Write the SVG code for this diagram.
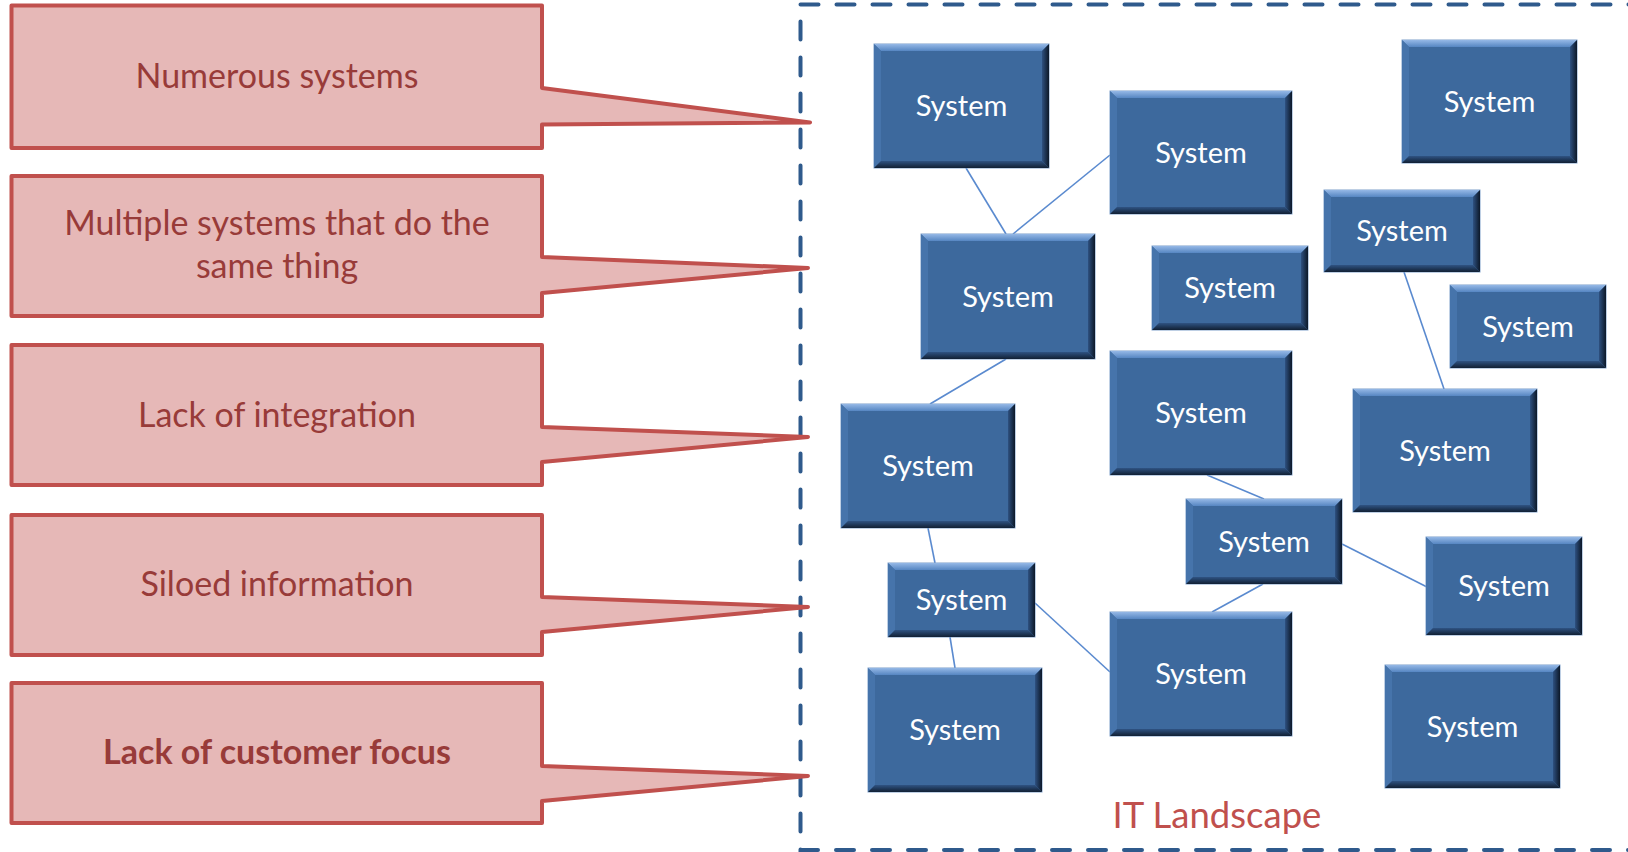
<svg xmlns="http://www.w3.org/2000/svg" width="1628" height="852" viewBox="0 0 1628 852">
  <defs>
    <linearGradient id="bvTop" x1="0" y1="0" x2="0" y2="1">
      <stop offset="0" stop-color="#95B8E6"/>
      <stop offset="1" stop-color="#5686C2"/>
    </linearGradient>
    <linearGradient id="bvRight" x1="0" y1="0" x2="1" y2="0">
      <stop offset="0" stop-color="#2E5181"/>
      <stop offset="1" stop-color="#0C1828"/>
    </linearGradient>
    <linearGradient id="bvBottom" x1="0" y1="0" x2="0" y2="1">
      <stop offset="0" stop-color="#2F5383"/>
      <stop offset="1" stop-color="#112034"/>
    </linearGradient>
    <style>
      .frame { fill: none; stroke: #2F5A8C; stroke-width: 4; stroke-dasharray: 18 18; stroke-linecap: round; }
      .callout { fill: #E6B8B7; stroke: #C0504D; stroke-width: 4; stroke-linejoin: round; }
      .ctext { font-family: Lato, "Liberation Sans", sans-serif; font-size: 34px; fill: #983B39; text-anchor: middle; }
      .bold { font-weight: bold; }
      .sys { fill: #3D699D; stroke: #7F9FC9; stroke-width: 1; }
      .bt { fill: url(#bvTop); }
      .bl { fill: #4674AB; }
      .br { fill: url(#bvRight); }
      .bb { fill: url(#bvBottom); }
      .stext { font-family: Lato, "Liberation Sans", sans-serif; font-size: 29px; fill: #FFFFFF; text-anchor: middle; }
      .link { stroke: #5A8ACF; stroke-width: 1.6; fill: none; }
      .title { font-family: Lato, "Liberation Sans", sans-serif; font-size: 36.5px; fill: #C0504D; text-anchor: middle; }
    </style>
  </defs>

  <rect width="1628" height="852" fill="#FFFFFF"/>

  <!-- dashed boundary of the IT landscape -->
  <rect class="frame" x="800.5" y="4.5" width="900" height="845.5"/>

  <!-- problem callouts -->
  <g id="callout-numerous">
    <path class="callout" d="M11.5 5.5 H542 V88 L810 122.5 L542 124.5 V148 H11.5 Z"/>
    <text class="ctext" x="277" y="88">Numerous systems</text>
  </g>
  <g id="callout-duplicate">
    <path class="callout" d="M11.5 176 H542 V257 L808 268 L542 293 V316 H11.5 Z"/>
    <text class="ctext" x="277" y="235">Multiple systems that do the</text>
    <text class="ctext" x="277" y="278">same thing</text>
  </g>
  <g id="callout-integration">
    <path class="callout" d="M11.5 345 H542 V427 L808 437 L542 462 V485 H11.5 Z"/>
    <text class="ctext" x="277" y="427">Lack of integration</text>
  </g>
  <g id="callout-siloed">
    <path class="callout" d="M11.5 515 H542 V597 L808 607 L542 632 V655 H11.5 Z"/>
    <text class="ctext" x="277" y="596">Siloed information</text>
  </g>
  <g id="callout-customer">
    <path class="callout" d="M11.5 683 H542 V766 L808 776 L542 801 V823 H11.5 Z"/>
    <text class="ctext bold" x="277" y="764">Lack of customer focus</text>
  </g>

  <!-- links between systems -->
  <g id="connectors">
    <line class="link" x1="966" y1="168" x2="1006" y2="234"/>
    <line class="link" x1="1110" y1="155" x2="1013" y2="234"/>
    <line class="link" x1="1006" y1="359" x2="930" y2="404"/>
    <line class="link" x1="1404" y1="272" x2="1444" y2="389"/>
    <line class="link" x1="928" y1="528" x2="935" y2="563"/>
    <line class="link" x1="950" y1="637" x2="955" y2="668"/>
    <line class="link" x1="1035" y1="603" x2="1110" y2="672"/>
    <line class="link" x1="1207" y1="475" x2="1264" y2="499"/>
    <line class="link" x1="1342" y1="544" x2="1427" y2="587"/>
    <line class="link" x1="1263" y1="584" x2="1212" y2="612"/>
  </g>

  <!-- systems: base, four bevel faces, label -->
  <g id="sys-1">
    <rect class="sys" x="874" y="44" width="175" height="124"/>
    <polygon class="bt" points="874,44 1049,44 1042,51 881,51"/>
    <polygon class="bl" points="874,44 881,51 881,161 874,168"/>
    <polygon class="br" points="1049,44 1049,168 1042,161 1042,51"/>
    <polygon class="bb" points="874,168 1049,168 1042,161 881,161"/>
    <text class="stext" x="961.5" y="116">System</text>
  </g>
  <g id="sys-2">
    <rect class="sys" x="1110" y="91" width="182" height="123"/>
    <polygon class="bt" points="1110,91 1292,91 1285,98 1117,98"/>
    <polygon class="bl" points="1110,91 1117,98 1117,207 1110,214"/>
    <polygon class="br" points="1292,91 1292,214 1285,207 1285,98"/>
    <polygon class="bb" points="1110,214 1292,214 1285,207 1117,207"/>
    <text class="stext" x="1201" y="162.5">System</text>
  </g>
  <g id="sys-3">
    <rect class="sys" x="1402" y="40" width="175" height="123"/>
    <polygon class="bt" points="1402,40 1577,40 1570,47 1409,47"/>
    <polygon class="bl" points="1402,40 1409,47 1409,156 1402,163"/>
    <polygon class="br" points="1577,40 1577,163 1570,156 1570,47"/>
    <polygon class="bb" points="1402,163 1577,163 1570,156 1409,156"/>
    <text class="stext" x="1489.5" y="111.5">System</text>
  </g>
  <g id="sys-4">
    <rect class="sys" x="921" y="234" width="174" height="125"/>
    <polygon class="bt" points="921,234 1095,234 1088,241 928,241"/>
    <polygon class="bl" points="921,234 928,241 928,352 921,359"/>
    <polygon class="br" points="1095,234 1095,359 1088,352 1088,241"/>
    <polygon class="bb" points="921,359 1095,359 1088,352 928,352"/>
    <text class="stext" x="1008" y="306.5">System</text>
  </g>
  <g id="sys-5">
    <rect class="sys" x="1152" y="246" width="156" height="84"/>
    <polygon class="bt" points="1152,246 1308,246 1301,253 1159,253"/>
    <polygon class="bl" points="1152,246 1159,253 1159,323 1152,330"/>
    <polygon class="br" points="1308,246 1308,330 1301,323 1301,253"/>
    <polygon class="bb" points="1152,330 1308,330 1301,323 1159,323"/>
    <text class="stext" x="1230" y="298">System</text>
  </g>
  <g id="sys-6">
    <rect class="sys" x="1324" y="190" width="156" height="82"/>
    <polygon class="bt" points="1324,190 1480,190 1473,197 1331,197"/>
    <polygon class="bl" points="1324,190 1331,197 1331,265 1324,272"/>
    <polygon class="br" points="1480,190 1480,272 1473,265 1473,197"/>
    <polygon class="bb" points="1324,272 1480,272 1473,265 1331,265"/>
    <text class="stext" x="1402" y="241">System</text>
  </g>
  <g id="sys-7">
    <rect class="sys" x="1450" y="285" width="156" height="83"/>
    <polygon class="bt" points="1450,285 1606,285 1599,292 1457,292"/>
    <polygon class="bl" points="1450,285 1457,292 1457,361 1450,368"/>
    <polygon class="br" points="1606,285 1606,368 1599,361 1599,292"/>
    <polygon class="bb" points="1450,368 1606,368 1599,361 1457,361"/>
    <text class="stext" x="1528" y="336.5">System</text>
  </g>
  <g id="sys-8">
    <rect class="sys" x="1110" y="351" width="182" height="124"/>
    <polygon class="bt" points="1110,351 1292,351 1285,358 1117,358"/>
    <polygon class="bl" points="1110,351 1117,358 1117,468 1110,475"/>
    <polygon class="br" points="1292,351 1292,475 1285,468 1285,358"/>
    <polygon class="bb" points="1110,475 1292,475 1285,468 1117,468"/>
    <text class="stext" x="1201" y="423">System</text>
  </g>
  <g id="sys-9">
    <rect class="sys" x="1353" y="389" width="184" height="123"/>
    <polygon class="bt" points="1353,389 1537,389 1530,396 1360,396"/>
    <polygon class="bl" points="1353,389 1360,396 1360,505 1353,512"/>
    <polygon class="br" points="1537,389 1537,512 1530,505 1530,396"/>
    <polygon class="bb" points="1353,512 1537,512 1530,505 1360,505"/>
    <text class="stext" x="1445" y="460.5">System</text>
  </g>
  <g id="sys-10">
    <rect class="sys" x="841" y="404" width="174" height="124"/>
    <polygon class="bt" points="841,404 1015,404 1008,411 848,411"/>
    <polygon class="bl" points="841,404 848,411 848,521 841,528"/>
    <polygon class="br" points="1015,404 1015,528 1008,521 1008,411"/>
    <polygon class="bb" points="841,528 1015,528 1008,521 848,521"/>
    <text class="stext" x="928" y="476">System</text>
  </g>
  <g id="sys-11">
    <rect class="sys" x="1186" y="499" width="156" height="85"/>
    <polygon class="bt" points="1186,499 1342,499 1335,506 1193,506"/>
    <polygon class="bl" points="1186,499 1193,506 1193,577 1186,584"/>
    <polygon class="br" points="1342,499 1342,584 1335,577 1335,506"/>
    <polygon class="bb" points="1186,584 1342,584 1335,577 1193,577"/>
    <text class="stext" x="1264" y="551.5">System</text>
  </g>
  <g id="sys-12">
    <rect class="sys" x="1426" y="537" width="156" height="98"/>
    <polygon class="bt" points="1426,537 1582,537 1575,544 1433,544"/>
    <polygon class="bl" points="1426,537 1433,544 1433,628 1426,635"/>
    <polygon class="br" points="1582,537 1582,635 1575,628 1575,544"/>
    <polygon class="bb" points="1426,635 1582,635 1575,628 1433,628"/>
    <text class="stext" x="1504" y="596">System</text>
  </g>
  <g id="sys-13">
    <rect class="sys" x="888" y="563" width="147" height="74"/>
    <polygon class="bt" points="888,563 1035,563 1028,570 895,570"/>
    <polygon class="bl" points="888,563 895,570 895,630 888,637"/>
    <polygon class="br" points="1035,563 1035,637 1028,630 1028,570"/>
    <polygon class="bb" points="888,637 1035,637 1028,630 895,630"/>
    <text class="stext" x="961.5" y="610">System</text>
  </g>
  <g id="sys-14">
    <rect class="sys" x="1110" y="612" width="182" height="124"/>
    <polygon class="bt" points="1110,612 1292,612 1285,619 1117,619"/>
    <polygon class="bl" points="1110,612 1117,619 1117,729 1110,736"/>
    <polygon class="br" points="1292,612 1292,736 1285,729 1285,619"/>
    <polygon class="bb" points="1110,736 1292,736 1285,729 1117,729"/>
    <text class="stext" x="1201" y="684">System</text>
  </g>
  <g id="sys-15">
    <rect class="sys" x="868" y="668" width="174" height="124"/>
    <polygon class="bt" points="868,668 1042,668 1035,675 875,675"/>
    <polygon class="bl" points="868,668 875,675 875,785 868,792"/>
    <polygon class="br" points="1042,668 1042,792 1035,785 1035,675"/>
    <polygon class="bb" points="868,792 1042,792 1035,785 875,785"/>
    <text class="stext" x="955" y="740">System</text>
  </g>
  <g id="sys-16">
    <rect class="sys" x="1385" y="665" width="175" height="123"/>
    <polygon class="bt" points="1385,665 1560,665 1553,672 1392,672"/>
    <polygon class="bl" points="1385,665 1392,672 1392,781 1385,788"/>
    <polygon class="br" points="1560,665 1560,788 1553,781 1553,672"/>
    <polygon class="bb" points="1385,788 1560,788 1553,781 1392,781"/>
    <text class="stext" x="1472.5" y="736.5">System</text>
  </g>

  <text id="landscape-title" class="title" x="1217" y="828">IT Landscape</text>
</svg>
